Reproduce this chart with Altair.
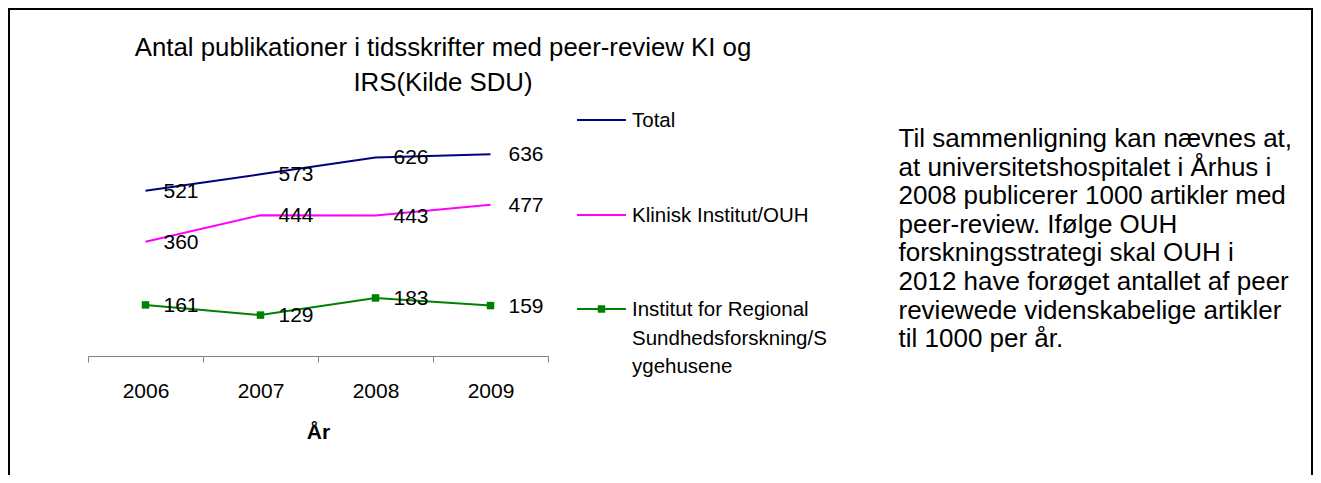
import altair as alt
import pandas as pd

years = ["2006", "2007", "2008", "2009"]
series_names = ["Total", "Klinisk Institut/OUH", "Institut for Regional Sundhedsforskning/Sygehusene"]
total = [521, 573, 626, 636]
klinisk = [360, 444, 443, 477]
irs = [161, 129, 183, 159]
colors = ["#000080", "#FF00FF", "#008000"]

title_lines = ["Antal publikationer i tidsskrifter med peer-review KI og", "IRS(Kilde SDU)"]
legend_labels = [["Total"], ["Klinisk Institut/OUH"], ["Institut for Regional", "Sundhedsforskning/S", "ygehusene"]]
note_lines = [
    "Til sammenligning kan nævnes at,",
    "at universitetshospitalet i Århus i",
    "2008 publicerer 1000 artikler med",
    "peer-review. Ifølge OUH",
    "forskningsstrategi skal OUH i",
    "2012 have forøget antallet af peer",
    "reviewede videnskabelige artikler",
    "til 1000 per år.",
]
axis_title = "År"

rows = []
for name, vals in zip(series_names, [total, klinisk, irs]):
    for y, v in zip(years, vals):
        rows.append({"year": y, "series": name, "value": v})
df = pd.DataFrame(rows)

FONT = "Liberation Sans"

x_enc = alt.X(
    "year:N",
    scale=alt.Scale(type="band", domain=years, paddingInner=0, paddingOuter=0),
    axis=alt.Axis(
        title=axis_title, tickBand="extent", labelAngle=0, tickSize=6,
        domainColor="#808080", tickColor="#808080", domainWidth=1, tickWidth=1,
        labelFont=FONT, labelFontSize=21, labelColor="#000000", labelPadding=18,
        labelBaseline="top",
        titleFont=FONT, titleFontSize=21, titleFontWeight="bold", titleColor="#000000",
        titleBaseline="alphabetic", titleY=82.5,
    ),
)
y_enc = alt.Y("value:Q", scale=alt.Scale(domain=[0, 700], nice=False, zero=True), axis=None)
color_enc = alt.Color("series:N", scale=alt.Scale(domain=series_names, range=colors), legend=None)

base = alt.Chart(df)

lines = base.mark_line(strokeWidth=2).encode(x=x_enc, y=y_enc, color=color_enc)
points = base.transform_filter(alt.datum.series == series_names[2]).mark_point(
    shape="square", filled=True, size=56, opacity=1
).encode(x=x_enc, y=y_enc, color=color_enc)
labels = base.mark_text(align="left", baseline="middle", dx=18, dy=1, font=FONT, fontSize=21, color="#000000").encode(
    x=x_enc, y=y_enc, text="value:Q"
)

one = alt.Data(values=[{}])

border = alt.Chart(one).mark_rect(fill="transparent", stroke="#000000", strokeWidth=2).encode(
    x=alt.value(-79), x2=alt.value(1224), y=alt.value(-125), y2=alt.value(350)
)

title = alt.Chart(one).mark_text(
    text=title_lines, align="center", baseline="top", lineHeight=35, font=FONT, fontSize=25.8, color="#000000"
).encode(x=alt.value(355), y=alt.value(-98))

note = alt.Chart(one).mark_text(
    text=note_lines, align="left", baseline="top", lineHeight=28.6, font=FONT, fontSize=26, color="#000000"
).encode(x=alt.value(810.5), y=alt.value(-8))

legend_y = [-14, 81, 175]
legend_layers = []
for i in range(3):
    ly = legend_y[i]
    legend_layers.append(
        alt.Chart(one).mark_rule(color=colors[i], strokeWidth=2).encode(
            x=alt.value(489), x2=alt.value(538), y=alt.value(ly)
        )
    )
    if i == 2:
        legend_layers.append(
            alt.Chart(one).mark_point(shape="square", filled=True, size=56, color=colors[i], opacity=1).encode(
                x=alt.value(513.5), y=alt.value(ly)
            )
        )
    lbl = legend_labels[i]
    if len(lbl) == 1:
        legend_layers.append(
            alt.Chart(one).mark_text(
                text=lbl[0], align="left", baseline="middle", font=FONT, fontSize=20.5, color="#000000"
            ).encode(x=alt.value(544), y=alt.value(ly + 1))
        )
    else:
        legend_layers.append(
            alt.Chart(one).mark_text(
                text=lbl, align="left", baseline="top", lineHeight=28.5, font=FONT, fontSize=20.5, color="#000000"
            ).encode(x=alt.value(544), y=alt.value(ly - 9))
        )

chart = alt.layer(
    border, lines, points, labels, title, note, *legend_layers
).properties(
    width=460, height=222,
    autosize=alt.AutoSizeParams(type="none"),
    padding={"left": 80, "top": 126, "right": 765, "bottom": 119},
    background="#ffffff",
).configure_view(stroke=None)

chart.save("out.html", embed_options={"renderer": "svg", "actions": False})
